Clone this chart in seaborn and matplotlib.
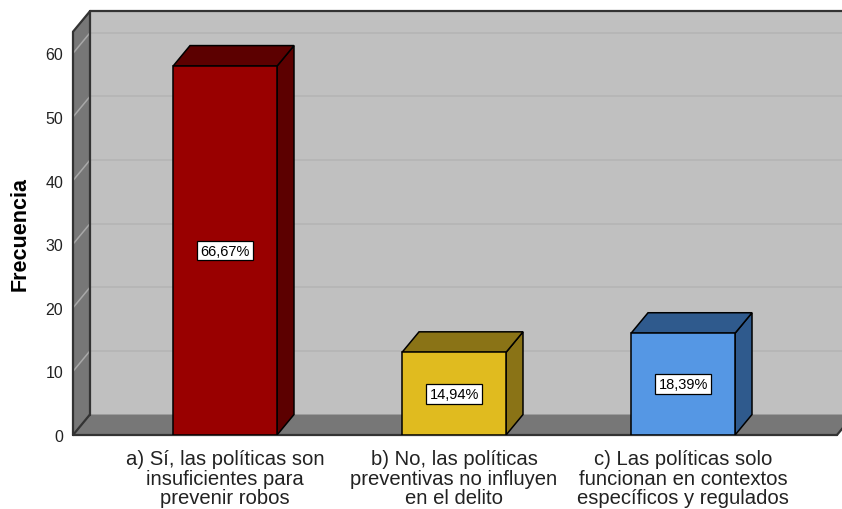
import matplotlib
matplotlib.use("Agg")
import matplotlib.pyplot as plt
from matplotlib.patches import Polygon
import pandas as pd
import seaborn as sns


categories = [
    "a) Sí, las políticas son\ninsuficientes para\nprevenir robos",
    "b) No, las políticas\npreventivas no influyen\nen el delito",
    "c) Las políticas solo\nfuncionan en contextos\nespecíficos y regulados",
]
counts = [58, 13, 16]
front_colors = ["#990000", "#e0bb1f", "#5597e4"]
shade_colors = ["#5c0000", "#8a7316", "#2f5a8d"]
y_ticks = [0, 10, 20, 30, 40, 50, 60]

# layout (pixels of the 842x510 canvas)
FIG_W, FIG_H, DPI = 842, 510, 100
AX_LEFT, AX_RIGHT, AX_BOTTOM, AX_TOP = 73, 842, 436, 13
Y_MAX = 66.5
X_MIN, X_MAX = -0.664, 2.694
DX, DY = 0.074, 3.22          # depth of the 3D box, in data units
WALL_TOP = 63.4
FLOOR_END = 2.672

WALL = "#c0c0c0"
SIDE = "#777777"
GRID = "#b6b6b6"
EDGE = "#333333"


def main():
    sns.set_theme(style="white")
    plt.rcParams["font.family"] = ["Liberation Sans", "DejaVu Sans"]

    df = pd.DataFrame({"cat": categories, "n": counts})
    pct = [c / sum(counts) * 100 for c in counts]

    fig = plt.figure(figsize=(FIG_W / DPI, FIG_H / DPI), dpi=DPI)
    ax = fig.add_axes([
        AX_LEFT / FIG_W,
        1 - AX_BOTTOM / FIG_H,
        (AX_RIGHT - AX_LEFT) / FIG_W,
        (AX_BOTTOM - AX_TOP) / FIG_H,
    ])
    ax.set_facecolor("none")

    sns.barplot(
        data=df, x="cat", y="n", hue="cat", palette=front_colors,
        width=0.454, edgecolor="black", linewidth=1.1, legend=False,
        saturation=1, ax=ax,
    )

    # walls and floor
    ax.add_patch(Polygon([(X_MIN + DX, DY), (X_MAX + 1, DY), (X_MAX + 1, WALL_TOP + DY),
                          (X_MIN + DX, WALL_TOP + DY)], closed=True, fc=WALL, ec="none",
                         zorder=0, clip_on=False))
    ax.add_patch(Polygon([(X_MIN, 0), (X_MIN + DX, DY), (X_MIN + DX, WALL_TOP + DY),
                          (X_MIN, WALL_TOP)], closed=True, fc=SIDE, ec="none",
                         zorder=1, clip_on=False))
    ax.add_patch(Polygon([(X_MIN, 0), (FLOOR_END, 0), (FLOOR_END + DX, DY),
                          (X_MIN + DX, DY)], closed=True, fc=SIDE, ec="none",
                         zorder=1, clip_on=False))

    for v in y_ticks[1:]:
        ax.plot([X_MIN + DX, X_MAX + 1], [v + DY, v + DY], color=GRID, lw=1.3,
                zorder=0.5, clip_on=False)
        ax.plot([X_MIN, X_MIN + DX], [v, v + DY], color="#a8a8a8", lw=1.1,
                zorder=1.5, clip_on=False)

    outline = [
        ([X_MIN, X_MIN], [0, WALL_TOP]),
        ([X_MIN, X_MIN + DX], [WALL_TOP, WALL_TOP + DY]),
        ([X_MIN + DX, X_MAX + 1], [WALL_TOP + DY, WALL_TOP + DY]),
        ([X_MIN + DX, X_MIN + DX], [DY, WALL_TOP + DY]),
        ([X_MIN, FLOOR_END], [0, 0]),
        ([FLOOR_END, FLOOR_END + DX], [0, DY]),
        ([X_MIN, X_MIN + DX], [0, DY]),
    ]
    for xs, ys in outline:
        ax.plot(xs, ys, color=EDGE, lw=1.6, zorder=2, clip_on=False,
                solid_capstyle="round")

    # 3D faces of the bars
    for bar, shade, p in zip(ax.patches[:len(counts)], shade_colors, pct):
        bar.set_zorder(5)
        x, w, h = bar.get_x(), bar.get_width(), bar.get_height()
        ax.add_patch(Polygon([(x + w, 0), (x + w + DX, DY), (x + w + DX, h + DY), (x + w, h)],
                             closed=True, fc=shade, ec="black", lw=1.1, zorder=4))
        ax.add_patch(Polygon([(x, h), (x + w, h), (x + w + DX, h + DY), (x + DX, h + DY)],
                             closed=True, fc=shade, ec="black", lw=1.1, zorder=4))
        ax.text(x + w / 2, h / 2, f"{p:.2f}%".replace(".", ","), ha="center", va="center",
                fontsize=10.5, color="black", zorder=6,
                bbox=dict(boxstyle="square,pad=0.2", fc="white", ec="black", lw=0.9))

    ax.set_xlim(X_MIN, X_MAX)
    ax.set_ylim(0, Y_MAX)
    ax.set_yticks(y_ticks)
    ax.set_yticklabels([str(t) for t in y_ticks], fontsize=11.5, color="#222222")
    ax.set_xticks(range(len(categories)))
    ax.set_xticklabels(categories, fontsize=14.6, color="#222222", linespacing=1.05)
    ax.tick_params(axis="both", length=0)
    ax.tick_params(axis="y", pad=7)
    ax.tick_params(axis="x", pad=10)
    ax.set_xlabel("")
    ax.set_ylabel("")
    sns.despine(ax=ax, left=True, bottom=True)

    fig.text(20 / FIG_W, 1 - 234 / FIG_H, "Frecuencia", rotation=90, ha="center",
             va="center", fontsize=15.5, fontweight="bold", color="black")

    fig.savefig("out.png", dpi=DPI, facecolor="white")
    plt.close(fig)


if __name__ == "__main__":
    main()
